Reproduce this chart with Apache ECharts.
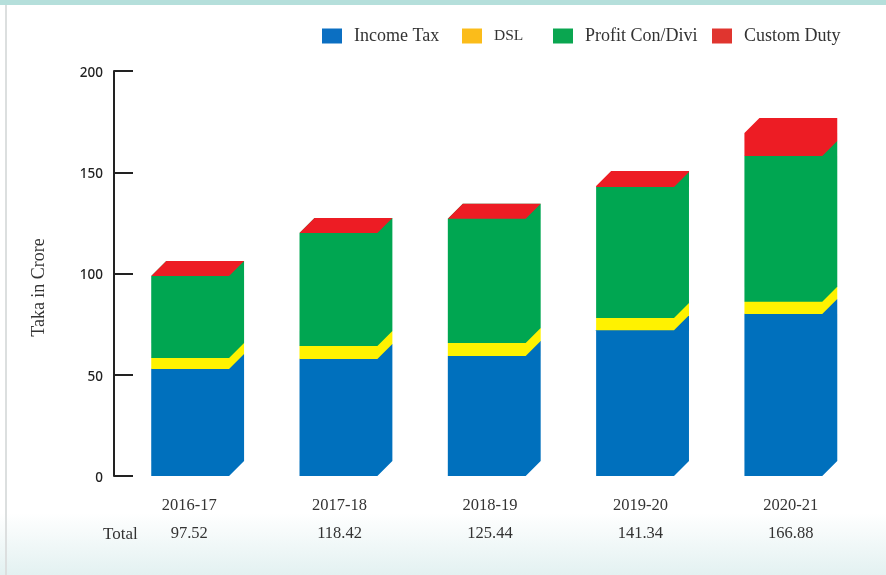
<!DOCTYPE html>
<html>
<head>
<meta charset="utf-8">
<title>Taka in Crore</title>
<script src="https://cdn.jsdelivr.net/npm/echarts@6/dist/echarts.min.js"></script>
<style>
    html, body { margin: 0; padding: 0; }
    body {
        width: 886px;
        height: 575px;
        overflow: hidden;
        background: linear-gradient(to bottom, #ffffff 0, #ffffff 513px, #e3f1f1 575px);
    }
    #topBand { position: absolute; left: 0; top: 0; width: 886px; height: 5px; background: #b5dfdb; }
    #leftLine { position: absolute; left: 5px; top: 5px; width: 2px; height: 570px; background: #dcdfdf; }
    #chart { position: absolute; left: 0; top: 0; width: 886px; height: 575px; }
</style>
</head>
<body>
<div id="topBand"></div>
<div id="leftLine"></div>
<div id="chart"></div>
<script>
const years = ['2016-17', '2017-18', '2018-19', '2019-20', '2020-21'];
const totals = ['97.52', '118.42', '125.44', '141.34', '166.88'];
const incomeTax = [52.8, 57.8, 59.3, 72, 80];
const dsl = [5.5, 6.4, 6.4, 6, 6];
const profitCon = [40.5, 55.8, 61.3, 64.7, 72];
const customDuty = [0, 0, 0, 0.5, 11.4];
const yTicks = [0, 50, 100, 150, 200];

const seriesNames = ['Income Tax', 'DSL', 'Profit Con/Divi', 'Custom Duty'];
const seriesValues = [incomeTax, dsl, profitCon, customDuty];
const barColors = ['#0070bd', '#fff200', '#00a651', '#ed1c24'];
const legendColors = ['#0b6fc2', '#fbbc1a', '#0aa650', '#e0352f'];
const legendLefts = [322, 462, 553, 712];
const legendTops = [27, 28, 27, 27];
const legendFontSizes = [18, 15.5, 18, 18];

const serif = '"Liberation Serif", serif';
const DEPTH = 15;

// 每段柱子画成一个六边形 (正面+侧面+顶面同色), 后画的段盖住前一段的顶面
function renderBlock(params, api) {
    const idx = api.value(0);
    const band = api.size([1, 0])[0];
    const w = band * 0.525;
    const bottomPt = api.coord([idx, api.value(1)]);
    const topPt = api.coord([idx, api.value(2)]);
    const x0 = bottomPt[0] - w / 2 + 2;
    const x1 = x0 + w;
    const y0 = bottomPt[1];
    const y1 = topPt[1];
    return {
        type: 'polygon',
        shape: {
            points: [
                [x0, y0], [x1, y0], [x1 + DEPTH, y0 - DEPTH],
                [x1 + DEPTH, y1 - DEPTH], [x0 + DEPTH, y1 - DEPTH], [x0, y1]
            ]
        },
        style: { fill: api.visual('color'), stroke: null }
    };
}

function buildSeries() {
    const running = years.map(() => 0);
    return seriesNames.map((name, s) => ({
        name,
        type: 'custom',
        xAxisIndex: 0,
        yAxisIndex: 0,
        renderItem: renderBlock,
        itemStyle: { color: barColors[s] },
        encode: { x: 0, y: 2 },
        data: years.map((y, i) => {
            const base = running[i];
            running[i] += seriesValues[s][i];
            return [i, base, running[i]];
        })
    }));
}

const chart = echarts.init(document.getElementById('chart'), null, { renderer: 'canvas' });
chart.setOption({
    animation: false,
    backgroundColor: 'transparent',
    legend: seriesNames.map((name, i) => ({
        left: legendLefts[i],
        top: legendTops[i],
        padding: 0,
        itemWidth: 20,
        itemHeight: 15,
        itemGap: 0,
        icon: 'rect',
        selectedMode: false,
        textStyle: { fontFamily: serif, fontSize: legendFontSizes[i], color: '#333', padding: [0, 0, 0, 7] },
        data: [{ name, itemStyle: { color: legendColors[i] } }]
    })),
    grid: [
        { left: 114, top: 71, width: 741.5, height: 405 },
        // 年份标签的间距比柱子略宽, 单独一个网格
        { left: 114, top: 71, width: 752, height: 405 }
    ],
    xAxis: [
        { type: 'category', gridIndex: 0, data: years, axisLine: { show: false }, axisTick: { show: false }, axisLabel: { show: false } },
        {
            type: 'category',
            gridIndex: 1,
            data: years,
            axisLine: { show: false },
            axisTick: { show: false },
            axisLabel: {
                margin: 16,
                fontFamily: serif,
                fontSize: 16.5,
                color: '#333',
                lineHeight: 28,
                formatter: (value, i) => value + '\n' + totals[i]
            }
        }
    ],
    yAxis: [
        {
            type: 'value',
            gridIndex: 0,
            min: yTicks[0],
            max: yTicks[yTicks.length - 1],
            interval: yTicks[1] - yTicks[0],
            name: 'Taka in Crore',
            nameLocation: 'middle',
            nameRotate: 90,
            nameGap: 66,
            nameTextStyle: { fontFamily: serif, fontSize: 18, color: '#333', padding: [0, 28, 0, 0] },
            axisLine: { show: true, lineStyle: { color: '#222', width: 2 } },
            axisTick: { show: true, inside: true, length: 19, lineStyle: { color: '#222', width: 2 } },
            axisLabel: {
                margin: 11,
                formatter: '{n|{value}}',
                rich: {
                    // 标签比刻度线略低一点
                    n: { fontFamily: '"Noto Sans", sans-serif', fontSize: 13.5, fontWeight: 500, color: '#222', padding: [4, 0, 0, 0] }
                }
            },
            splitLine: { show: false }
        },
        { type: 'value', gridIndex: 1, show: false }
    ],
    graphic: [
        { type: 'text', left: 103, top: 526, style: { text: 'Total', font: '17px ' + serif, fill: '#333' } }
    ],
    series: buildSeries()
});
</script>
</body>
</html>
